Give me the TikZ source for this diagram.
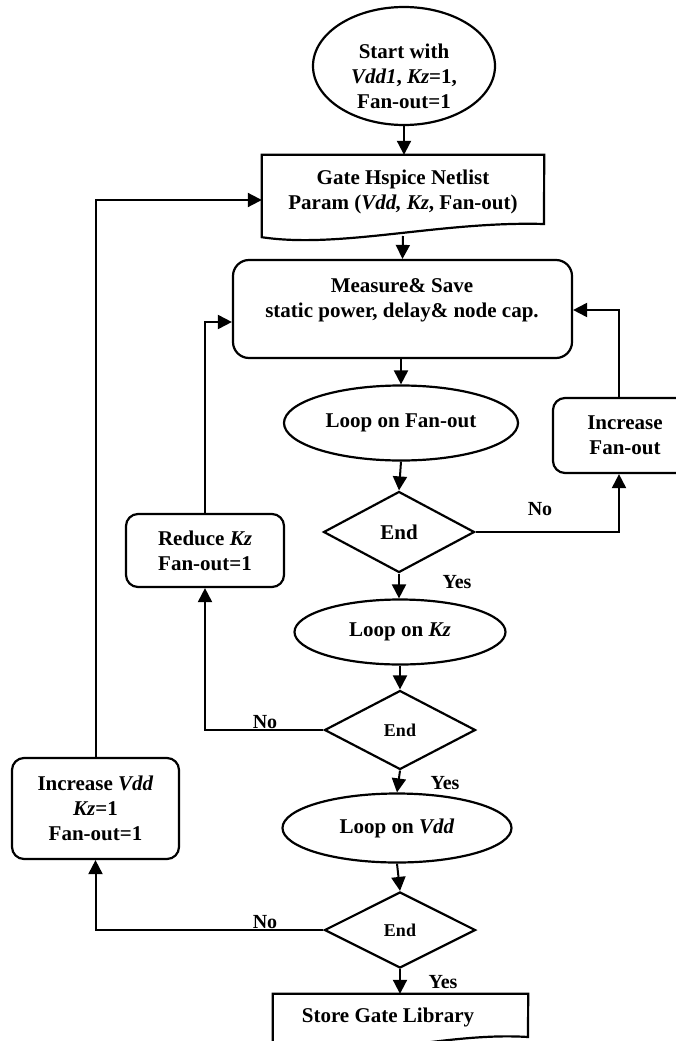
\documentclass[tikz,border=0pt]{standalone}
\usepackage{fontspec}
\setmainfont{Liberation Serif}
\usetikzlibrary{shapes.geometric,arrows.meta}
\begin{document}
\begin{tikzpicture}[x=1pt,y=-1pt,
  every node/.style={font=\fontsize{21}{25}\selectfont\bfseries, align=center, inner sep=0pt},
  shp/.style={draw, line width=2.2pt},
  ell/.style={shp, ellipse},
  dia/.style={shp, diamond},
  rbox/.style={shp, rectangle, rounded corners=12pt},
  conn/.style={line width=2pt, -{Triangle[length=14pt,width=14pt]}},
  lbl/.style={font=\fontsize{20}{24}\selectfont\bfseries},
  small/.style={font=\fontsize{18}{22}\selectfont\bfseries}
]
\useasboundingbox (0,0) rectangle (676,1041);

% start
\node[ell, minimum width=182pt, minimum height=118pt] (start) at (404,66) {};
\node (starttext) at (404,76) {Start with\\\textit{Vdd1}, \textit{Kz}=1,\\Fan-out=1};

% netlist document shape
\node[minimum width=282pt, minimum height=82pt] (net) at (403,196) {};
\draw[line width=2.2pt] (net.north west) -- (net.north east) -- (544,224)
  .. controls (440,221) and (340,249) .. (net.south west) -- cycle;
\node (nettext) at (403,192) {Gate Hspice Netlist\\Param (\textit{Vdd,} \textit{Kz}, Fan-out)};
\coordinate (netb) at (403,236);

% measure
\node[rbox, rounded corners=16pt, minimum width=339pt, minimum height=98pt] (meas) at (402.5,309) {};
\node (meastext) at (402,300) {Measure\& Save\\static power, delay\& node cap.};

% loops and decisions
\node[ell, minimum width=234pt, minimum height=75pt] (lfo) at (401,423) {Loop on Fan-out};
\node[dia, minimum width=151pt, minimum height=81pt] (d1) at (399,532) {End};
\node[ell, minimum width=211pt, minimum height=65pt] (lkz) at (400,632) {Loop on \textit{Kz}};
\node[dia, small, minimum width=151pt, minimum height=79pt] (d2) at (400,730) {End};
\node[ell, minimum width=229pt, minimum height=69pt] (lvdd) at (397,828) {Loop on \textit{Vdd}};
\node[dia, small, minimum width=151pt, minimum height=76pt] (d3) at (400,930) {End};

% side boxes
\node[rbox, minimum width=144pt, minimum height=75pt] (ifo) at (625,435.5) {Increase\\Fan-out};
\node[rbox, minimum width=158pt, minimum height=73pt] (rkz) at (205,550.5) {Reduce \textit{Kz}\\Fan-out=1};
\node[rbox, minimum width=167pt, minimum height=101pt] (ivdd) at (95.5,808.5) {Increase \textit{Vdd}\\\textit{Kz}=1\\Fan-out=1};

% store
\node[minimum width=255pt, minimum height=58pt] (store) at (400.5,1023) {};
\draw[line width=2.2pt] (store.north west) -- (store.north east) -- (528,1037)
  .. controls (450,1032) and (370,1058) .. (store.south west) -- cycle;
\node (storetext) at (388,1017) {Store Gate Library};

% labels
\node[lbl] (no1) at (540,509) {No};
\node[lbl] (yes1) at (457,582) {Yes};
\node[lbl] (no2) at (265,722) {No};
\node[lbl] (yes2) at (445,783) {Yes};
\node[lbl] (no3) at (265,922) {No};
\node[lbl] (yes3) at (443,982) {Yes};

% connectors
\draw[conn] (start.south) -- (start.south |- net.north);
\draw[conn] (netb) -- (meas.north);
\draw[conn] (lfo.north |- meas.south) -- (lfo.north);
\draw[conn] (lfo.south) -- (d1.north);
\coordinate (c1) at (619,532);
\draw[conn] (d1.east) -- (c1) -- (c1 |- ifo.south);
\coordinate (c2) at (619,310);
\draw[conn] (c1 |- ifo.north) -- (c2) -- (c2 -| meas.east);
\draw[conn] (d1.south) -- (d1.south |- lkz.north);
\draw[conn] (lkz.south) -- (d2.north);
\draw[conn] (d2.west) -- (d2.west -| rkz.south) -- (rkz.south);
\coordinate (c3) at (205,322);
\draw[conn] (rkz.north) -- (c3) -- (c3 -| meas.west);
\draw[conn] (d2.south) -- (lvdd.north);
\draw[conn] (lvdd.south) -- (d3.north);
\draw[conn] (d3.west) -- (d3.west -| ivdd.south) -- (ivdd.south);
\coordinate (c4) at (95.5,200);
\draw[conn] (ivdd.north) -- (c4) -- (c4 -| net.west);
\draw[conn] (d3.south) -- (d3.south |- store.north);
\end{tikzpicture}
\end{document}
